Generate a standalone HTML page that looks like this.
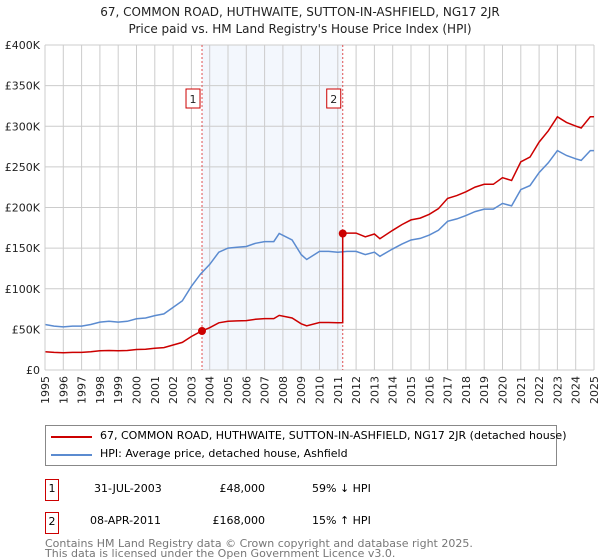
<!DOCTYPE html>
<html><head><meta charset="utf-8">
<style>
body{margin:0;width:600px;height:560px;background:#fff;font-family:"DejaVu Sans","Liberation Sans",sans-serif;position:relative;overflow:hidden}
.t{position:absolute;white-space:nowrap}
</style></head><body>
<div class="t" style="left:0;width:600px;text-align:center;top:4px;font-size:12px;line-height:17px;color:#222">67, COMMON ROAD, HUTHWAITE, SUTTON-IN-ASHFIELD, NG17 2JR<br>Price paid vs. HM Land Registry's House Price Index (HPI)</div>
<svg id="chart" width="600" height="420" style="position:absolute;left:0;top:0" font-family="DejaVu Sans, Liberation Sans, sans-serif"></svg>
<div style="position:absolute;left:45px;top:425px;width:510px;height:39px;border:1px solid #888">
<div style="position:absolute;left:5px;top:10px;width:41px;height:2px;background:#cc0000"></div>
<div class="t" style="left:54px;top:3px;font-size:11px">67, COMMON ROAD, HUTHWAITE, SUTTON-IN-ASHFIELD, NG17 2JR (detached house)</div>
<div style="position:absolute;left:5px;top:28px;width:41px;height:2px;background:#5b8bd0"></div>
<div class="t" style="left:54px;top:21px;font-size:11px">HPI: Average price, detached house, Ashfield</div>
</div>
<div>
<div class="t" style="left:45px;top:479px;width:12px;height:20px;border:1px solid #cc0000;font-size:11px;text-align:center;line-height:18px">1</div>
<div class="t" style="left:94px;top:482px;font-size:11px">31-JUL-2003</div>
<div class="t" style="left:185px;width:80px;text-align:right;top:482px;font-size:11px">£48,000</div>
<div class="t" style="left:312px;top:482px;font-size:11px">59% ↓ HPI</div>
</div>
<div>
<div class="t" style="left:45px;top:512px;width:12px;height:20px;border:1px solid #cc0000;font-size:11px;text-align:center;line-height:18px">2</div>
<div class="t" style="left:90px;top:514px;font-size:11px">08-APR-2011</div>
<div class="t" style="left:185px;width:80px;text-align:right;top:514px;font-size:11px">£168,000</div>
<div class="t" style="left:312px;top:514px;font-size:11px">15% ↑ HPI</div>
</div>
<div class="t" style="left:45px;top:539px;font-size:11px;line-height:10px;color:#777">Contains HM Land Registry data © Crown copyright and database right 2025.<br>This data is licensed under the Open Government Licence v3.0.</div>
<script>
const hpiYears=[1995,1995.5,1996,1996.5,1997,1997.5,1998,1998.5,1999,1999.5,2000,2000.5,2001,2001.5,2002,2002.5,2003,2003.5,2004,2004.5,2005,2005.5,2006,2006.5,2007,2007.5,2007.8,2008.5,2009,2009.3,2010,2010.5,2011,2011.5,2012,2012.5,2013,2013.3,2014,2014.5,2015,2015.5,2016,2016.5,2017,2017.5,2018,2018.5,2019,2019.5,2020,2020.5,2021,2021.5,2022,2022.5,2023,2023.5,2024,2024.3,2024.8,2025];
const hpiValues=[56,54,53,54,54,56,59,60,59,60,63,64,67,69,77,85,103,118,130,145,150,151,152,156,158,158,168,160,142,136,146,146,145,146,146,142,145,140,149,155,160,162,166,172,183,186,190,195,198,198,205,202,222,227,243,255,270,264,260,258,270,270];
const saleDates=[2003.58,2011.27];
const salePrices=[48,168];
const saleLabels=["1","2"];
const yTicks=[0,50,100,150,200,250,300,350,400];
const yTickLabels=["£0","£50K","£100K","£150K","£200K","£250K","£300K","£350K","£400K"];
const xTicks=[];for(let y=1995;y<=2025;y++)xTicks.push(y);

const svg=document.getElementById('chart');const NS='http://www.w3.org/2000/svg';
const X0=45,X1=594,Y0=370,Y1=45;
const xs=v=>X0+(v-1995)/30*(X1-X0);
const ys=v=>Y0-v/400*(Y0-Y1);
function mk(t,a){const e=document.createElementNS(NS,t);for(const k in a)e.setAttribute(k,a[k]);svg.appendChild(e);return e;}
function hpiAt(t){for(let i=0;i<hpiYears.length-1;i++){if(t<=hpiYears[i+1]){const f=(t-hpiYears[i])/(hpiYears[i+1]-hpiYears[i]);return hpiValues[i]+f*(hpiValues[i+1]-hpiValues[i]);}}return hpiValues[hpiValues.length-1];}
let r=mk('rect',{x:xs(saleDates[0]),y:Y1,width:xs(saleDates[1])-xs(saleDates[0]),height:Y0-Y1,fill:'#eef3fc',opacity:0.7});


xTicks.forEach(t=>{let l=mk('line',{x1:xs(t),x2:xs(t),y1:Y1,y2:Y0,stroke:'#ccc','stroke-width':1});


let tx=mk('text',{x:0,y:0,'font-size':11,fill:'#222','text-anchor':'end',transform:`translate(${xs(t)+4},${Y0+6}) rotate(-90)`});tx.textContent=t;

});
yTicks.forEach((t,i)=>{let l=mk('line',{x1:X0,x2:X1,y1:ys(t),y2:ys(t),stroke:'#ccc','stroke-width':1});


let tx=mk('text',{x:X0-5,y:ys(t)+4,'font-size':11,fill:'#222','text-anchor':'end'});tx.textContent=yTickLabels[i];

});
saleDates.forEach((d,i)=>{let l=mk('line',{x1:xs(d),x2:xs(d),y1:Y1,y2:Y0,stroke:'#e05050','stroke-width':1,'stroke-dasharray':'2,2'});


let b=mk('rect',{x:xs(d)-16,y:89,width:14,height:19,fill:'#fff',stroke:'#cc0000'});


let tx=mk('text',{x:xs(d)-9,y:103,'font-size':11,'text-anchor':'middle',fill:'#222'});tx.textContent=saleLabels[i];

});
let p=hpiYears.map((y,i)=>(i?'L':'M')+xs(y).toFixed(1)+','+ys(hpiValues[i]).toFixed(1)).join('');
let hl=mk('path',{d:p,fill:'none',stroke:'#5b8bd0','stroke-width':1.5});


let pts=[];
const r0=salePrices[0]/hpiAt(saleDates[0]),r1=salePrices[1]/hpiAt(saleDates[1]);
hpiYears.forEach((y,i)=>{if(y<saleDates[1])pts.push([y,hpiValues[i]*r0]);});
pts.push([saleDates[1],hpiAt(saleDates[1])*r0]);
pts.push([saleDates[1],salePrices[1]]);
hpiYears.forEach((y,i)=>{if(y>saleDates[1])pts.push([y,hpiValues[i]*r1]);});
let rp=pts.map((q,i)=>(i?'L':'M')+xs(q[0]).toFixed(1)+','+ys(q[1]).toFixed(1)).join('');
let rl=mk('path',{d:rp,fill:'none',stroke:'#cc0000','stroke-width':1.5});


saleDates.forEach((d,i)=>{let c=mk('circle',{cx:xs(d),cy:ys(salePrices[i]),r:4,fill:'#cc0000'});

});
let ax=mk('line',{x1:X0,x2:X0,y1:Y1,y2:Y0,stroke:'#ccc'});


</script>
</body></html>
